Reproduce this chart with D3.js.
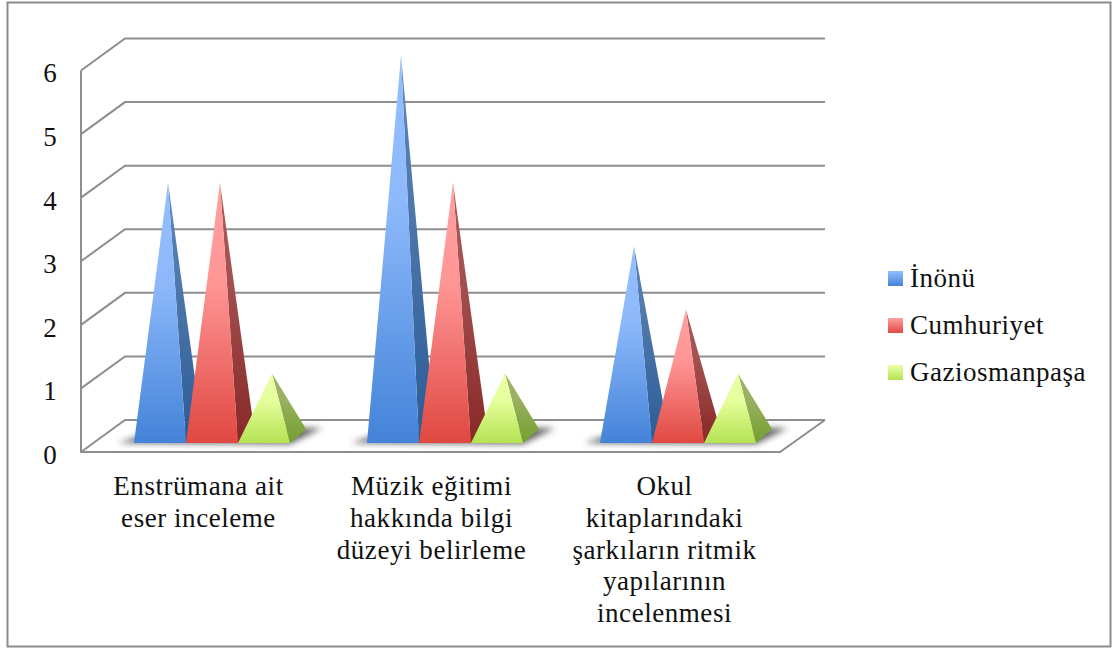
<!DOCTYPE html>
<html>
<head>
<meta charset="utf-8">
<script src="https://cdnjs.cloudflare.com/ajax/libs/d3/7.8.5/d3.min.js"></script>
<style>
	html, body { margin: 0; padding: 0; background: #fff; }
	svg { display: block; }
	text { font-family: "Liberation Serif", serif; fill: #111; }
</style>
</head>
<body>
<div id="chart"></div>
<script>
const categories = [
	['Enstrümana ait', 'eser inceleme'],
	['Müzik eğitimi', 'hakkında bilgi', 'düzeyi belirleme'],
	['Okul', 'kitaplarındaki', 'şarkıların ritmik', 'yapılarının', 'incelenmesi']
];
const seriesNames = ['İnönü', 'Cumhuriyet', 'Gaziosmanpaşa'];
const inonu = [4, 6, 3];
const cumhuriyet = [4, 4, 2];
const gaziosmanpasa = [1, 1, 1];
const yTicks = [0, 1, 2, 3, 4, 5, 6];

const seriesValues = [inonu, cumhuriyet, gaziosmanpasa];
const faceColors = [
	{ front: ['#93bfff', '#8db9fb', '#4483d8'], side: ['#5f84b8', '#4f78ac', '#2b5b96'] },
	{ front: ['#ffa0a0', '#ff9696', '#e04841'], side: ['#ab5a5a', '#a35050', '#872826'] },
	{ front: ['#ebffa6', '#e6ff9c', '#b4e253'], side: ['#9fb56c', '#98b060', '#74a02f'] }
];

const width = 1113, height = 648;
const floorLeft = 81, floorRight = 780, depthX = 44, depthY = -32;

const svg = d3.select('#chart').append('svg')
	.attr('width', width)
	.attr('height', height);

const yScale = d3.scaleLinear().domain([0, 6]).range([452, 70.5]);
const xScale = d3.scaleBand()
	.domain(d3.range(categories.length))
	.range([floorLeft, floorRight]);
// the three pyramids of one category, measured on the front of the floor
const groupScale = d3.scaleBand()
	.domain(d3.range(seriesNames.length))
	.range([53, 209]);

// outer frame
svg.append('rect')
	.attr('x', 7.5).attr('y', 2.5)
	.attr('width', 1103).attr('height', 644)
	.style('fill', '#fff')
	.style('stroke', '#8c8c8c')
	.style('stroke-width', 2);

const defs = svg.append('defs');
defs.append('filter').attr('id', 'blur')
	.attr('x', '-20%').attr('y', '-100%').attr('width', '140%').attr('height', '300%')
	.append('feGaussianBlur').attr('stdDeviation', 3);

function addGradient(id, stops, mid){
	const grad = defs.append('linearGradient')
		.attr('id', id)
		.attr('x1', 0).attr('y1', 0).attr('x2', 0).attr('y2', 1);
	grad.append('stop').attr('offset', 0).attr('stop-color', stops[0]);
	grad.append('stop').attr('offset', mid).attr('stop-color', stops[1]);
	grad.append('stop').attr('offset', 1).attr('stop-color', stops[2]);
}
faceColors.forEach((c, i) => {
	addGradient(`front${i}`, c.front, 0.38);
	addGradient(`side${i}`, c.side, 0.38);
	const swatch = defs.append('linearGradient')
		.attr('id', `swatch${i}`)
		.attr('x1', 0).attr('y1', 0).attr('x2', 0).attr('y2', 1);
	swatch.append('stop').attr('offset', 0).attr('stop-color', c.front[0]);
	swatch.append('stop').attr('offset', 1).attr('stop-color', c.front[2]);
});

// walls and floor
const grid = svg.append('g').attr('class', 'grid')
	.style('fill', 'none')
	.style('stroke', '#8e8e8e')
	.style('stroke-width', 2);

grid.selectAll('path.wall')
	.data(yTicks)
	.join('path')
	.attr('class', 'wall')
	.attr('d', d => `M${floorLeft},${yScale(d)}L${floorLeft + depthX},${yScale(d) + depthY}L${floorRight + depthX + 1},${yScale(d) + depthY}`);

grid.append('path')
	.attr('d', `M${floorLeft},${yScale(6)}L${floorLeft},${yScale(0)}L${floorRight},${yScale(0)}L${floorRight + depthX + 1},${yScale(0) + depthY}`);

// pyramids
const baseY = yScale(0) - 9, baseDepthX = 16, baseDepthY = -14;
const apexOffset = 34, apexLift = 15;
const barWidth = groupScale.bandwidth();

const groups = svg.selectAll('g.category')
	.data(categories)
	.join('g')
	.attr('class', 'category')
	.attr('transform', (d, i) => `translate(${xScale(i)},0)`);

// soft shadow on the floor
groups.append('path')
	.attr('d', () => {
		const l = groupScale(0), r = groupScale(2) + barWidth;
		return `M${l - 16},${baseY}L${r},${baseY + 1}L${r + 18},${baseY - 8}L${r + 32},${baseY - 15}L${l + 30},${baseY - 15}Z`;
	})
	.style('fill', '#3c3c3c')
	.style('opacity', 0.8)
	.attr('filter', 'url(#blur)');

seriesNames.forEach((name, s) => {
	const marks = groups.append('g').attr('class', `series series-${s}`);
	const left = groupScale(s), right = left + barWidth;
	const apexX = left + apexOffset;

	// right hand face first, the front face overlaps its edge
	marks.append('path')
		.attr('d', (d, i) => `M${apexX},${yScale(seriesValues[s][i]) - apexLift}L${right},${baseY}L${right + baseDepthX},${baseY + baseDepthY}Z`)
		.style('fill', `url(#side${s})`);

	marks.append('path')
		.attr('d', (d, i) => `M${apexX},${yScale(seriesValues[s][i]) - apexLift}L${left},${baseY}L${right},${baseY}Z`)
		.style('fill', `url(#front${s})`);
});

// y axis
const fontSize = 27;
const yAxis = d3.axisLeft(yScale)
	.tickValues(yTicks)
	.tickFormat(d3.format('d'))
	.tickSize(0);

svg.append('g')
	.attr('class', 'y axis')
	.attr('transform', `translate(${floorLeft},0)`)
	.call(yAxis)
	.call(g => g.select('.domain').remove())
	.selectAll('text')
	.style('font-family', '"Liberation Serif", serif')
	.style('font-size', `${fontSize}px`)
	.style('fill', '#111')
	.attr('text-anchor', 'middle')
	.attr('x', -31)
	.attr('dy', '0.42em');

// category labels
const labels = svg.append('g').attr('class', 'x labels');
categories.forEach((lines, i) => {
	labels.selectAll(`text.cat${i}`)
		.data(lines)
		.join('text')
		.attr('class', `cat${i}`)
		.attr('x', xScale(i) + xScale.bandwidth() / 2 + 1)
		.attr('y', (d, j) => 495 + j * 31.8)
		.attr('text-anchor', 'middle')
		.style('font-size', `${fontSize}px`)
		.style('letter-spacing', '0.55px')
		.text(d => d);
});

// legend
const legendY = d3.scalePoint().domain(seriesNames).range([271, 365]);
const legend = svg.selectAll('g.legend')
	.data(seriesNames)
	.join('g')
	.attr('class', 'legend')
	.attr('transform', d => `translate(888,${legendY(d)})`);

legend.append('rect')
	.attr('width', 15)
	.attr('height', 15)
	.style('fill', (d, i) => `url(#swatch${i})`);

legend.append('text')
	.attr('x', 22)
	.attr('y', 16)
	.style('font-size', `${fontSize}px`)
	.style('letter-spacing', '0.5px')
	.text(d => d);
</script>
</body>
</html>
